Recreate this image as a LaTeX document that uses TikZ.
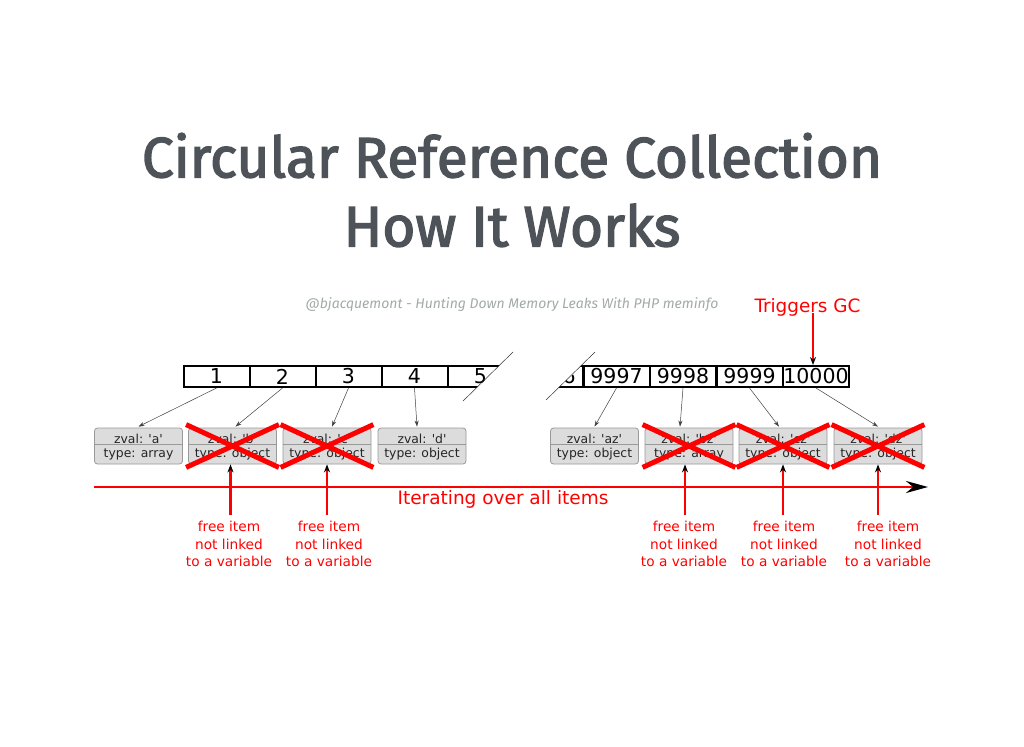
\documentclass[tikz,border=0pt]{standalone}
\usepackage{fontspec}
\setmainfont{DejaVu Sans}[Ligatures=TeXOff]
\newfontfamily\titlefont{Fira Sans}[UprightFeatures={FakeBold=2.5}]
\newfontfamily\subfont{Fira Sans}
\usetikzlibrary{arrows.meta,calc}
\definecolor{titlegray}{HTML}{4E5359}
\definecolor{subgray}{HTML}{A3AAAA}
\definecolor{boxfill}{HTML}{DCDCDC}
\definecolor{hred}{HTML}{FF0000}
\tikzset{
  cell/.style={draw=black, line width=2pt, minimum width=66pt, minimum height=21pt, inner sep=0pt, font=\fontsize{20.5}{21}\selectfont},
  zbox/.style={draw=gray!80, line width=0.8pt, fill=boxfill, rounded corners=3pt, minimum width=88pt, minimum height=36pt, inner sep=0pt},
  ztext/.style={inner sep=0pt, font=\fontsize{12.4}{13}\selectfont, text=black!85},
  ptr/.style={draw=black!75, line width=0.5pt, -{Stealth[length=6pt,width=4pt]}},
  redx/.style={draw=hred, line width=5pt},
  redup/.style={draw=hred, line width=2.6pt, -{Stealth[length=8pt,width=6pt,color=black]}},
  freelbl/.style={text=hred, align=center, inner sep=0pt, font=\fontsize{13.7}{17.5}\selectfont},
  cut/.style={draw=black!80, line width=0.5pt}
}
\newcommand\zvbox[5]{%
  \node[zbox] (#1) at (#2) {};
  \draw[draw=gray!80, line width=0.8pt] ($(#1.west)+(0,-2)$) -- ($(#1.east)+(0,-2)$);
  \node[ztext] (#1z) at ($(#1.center)+(0,-7.5)$) {zval: #3};
  \node[ztext] (#1t) at ($(#1.center)+(0,8)$) {type: #4};
}
\begin{document}
\begin{tikzpicture}[x=1pt,y=-1pt]
\useasboundingbox[fill=white] (0,0) rectangle (1024,746);
% title
\node[text=titlegray, font=\titlefont\fontsize{56.8}{69}\selectfont, align=center, inner sep=0pt] (title) at (512,190) {Circular Reference Collection\\How It Works};
\node[text=subgray, font=\subfont\itshape\fontsize{14}{16}\selectfont, inner sep=0pt] (sub) at (512,305) {@bjacquemont - Hunting Down Memory Leaks With PHP meminfo};
% left array
\begin{scope}
\clip (150,340) -- (525.2,340) -- (453.8,410) -- (150,410) -- cycle;
\node[cell] (c1) at (216.5,376.5) {1};
\node[cell] (c2) at (282.5,376.5) {2};
\node[cell] (c3) at (348.5,376.5) {3};
\node[cell] (c4) at (414.5,376.5) {4};
\node[cell] (c5) at (480.5,376.5) {5};
\end{scope}
\begin{scope}
\clip (607.25,340) -- (900,340) -- (900,410) -- (535.8,410) -- cycle;
\node[cell] (c9996) at (549.5,376.5) {9996};
\node[cell] (c9997) at (616.5,376.5) {9997};
\node[cell] (c9998) at (683,376.5) {9998};
\node[cell] (c9999) at (749.5,376.5) {9999};
\node[cell] (c10000) at (816,376.5) {10000};
\end{scope}
\coordinate (cutA1) at (513,352); \coordinate (cutA2) at (463,401);
\coordinate (cutB1) at (595,352); \coordinate (cutB2) at (546,400);
\draw[cut] (cutA1) -- (cutA2);
\draw[cut] (cutB1) -- (cutB2);
% boxes
\zvbox{a}{138.5,446}{'a'}{array}{}
\zvbox{b}{232.5,446}{'b'}{object}{}
\zvbox{c}{327,446}{'c'}{object}{}
\zvbox{d}{422,446}{'d'}{object}{}
\zvbox{az}{594.5,446}{'az'}{object}{}
\zvbox{bz}{689,446}{'bz'}{array}{}
\zvbox{cz}{783,446}{'cz'}{object}{}
\zvbox{dz}{878,446}{'dz'}{object}{}
% pointers
\draw[ptr] (c1.south) -- ($(a.north)+(0,-1)$);
\draw[ptr] (c2.south) -- ($(b.north)+(3,-1)$);
\draw[ptr] (c3.south) -- ($(c.north)+(5,-1)$);
\draw[ptr] (c4.south) -- ($(d.north)+(-5,-1)$);
\draw[ptr] (c9997.south) -- ($(az.north)+(0,-1)$);
\draw[ptr] (c9998.south) -- ($(bz.north)+(-9,-1)$);
\draw[ptr] (c9999.south) -- ($(cz.north)+(-4,-1)$);
\draw[ptr] (c10000.south) -- ($(dz.north)+(0,-1)$);
% red crosses
\foreach \n in {b,c,bz,cz,dz}{
  \draw[redx] ($(\n.north west)+(-2,-3)$) -- ($(\n.south east)+(2,3)$);
  \draw[redx] ($(\n.south west)+(-2,3)$) -- ($(\n.north east)+(2,-3)$);
}
% iteration arrow
\coordinate (itS) at (94,487);
\coordinate (itE) at (928,487);
\draw[draw=hred, line width=2.8pt, -{Stealth[length=22pt,width=12pt,color=black]}] (itS) -- (itE);
\node[text=hred, font=\fontsize{18.5}{18.5}\selectfont, inner sep=0pt] (iter) at (503,499) {Iterating over all items};
% free labels
\node[freelbl, anchor=north] (f1) at (229,521) {free item\\not linked\\to a variable};
\node[freelbl, anchor=north] (f2) at (329,521) {free item\\not linked\\to a variable};
\node[freelbl, anchor=north] (f3) at (684,521) {free item\\not linked\\to a variable};
\node[freelbl, anchor=north] (f4) at (784,521) {free item\\not linked\\to a variable};
\node[freelbl, anchor=north] (f5) at (888,521) {free item\\not linked\\to a variable};
\draw[redup] ($(f1.north -| b.south)+(-2,-6)$) -- ($(b.south)+(-2,0)$);
\draw[redup] ($(f2.north -| c.south)+(0,-6)$) -- (c.south);
\draw[redup] ($(f3.north -| bz.south)+(-4,-6)$) -- ($(bz.south)+(-4,0)$);
\draw[redup] ($(f4.north -| cz.south)+(0,-6)$) -- (cz.south);
\draw[redup] ($(f5.north -| dz.south)+(0,-6)$) -- (dz.south);
% triggers GC
\node[text=hred, font=\fontsize{18.4}{18.4}\selectfont, inner sep=0pt] (tg) at (807.5,307) {Triggers GC};
\draw[redup] ($(tg.south)+(5.5,-3)$) -- ($(c10000.north)+(-3,0)$);
\end{tikzpicture}
\end{document}
